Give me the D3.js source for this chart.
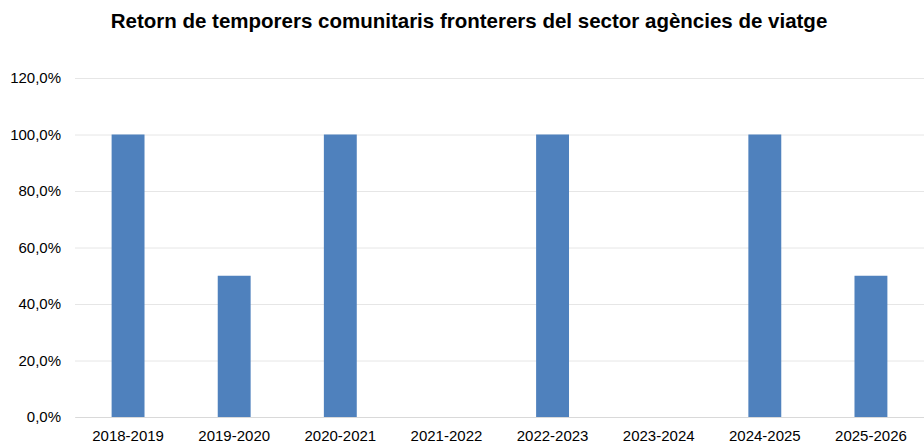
<!DOCTYPE html>
<html><head><meta charset="utf-8">
<script src="https://cdn.jsdelivr.net/npm/d3@7"></script>
<style>body{margin:0;background:#fff}svg{display:block}</style>
</head><body>
<svg id="c" width="924" height="447"></svg>
<script>
const categories = ["2018-2019","2019-2020","2020-2021","2021-2022","2022-2023","2023-2024","2024-2025","2025-2026"];
const values = [1.0, 0.5, 1.0, 0, 1.0, 0, 1.0, 0.5];
const yTicks = [0, 0.2, 0.4, 0.6, 0.8, 1.0, 1.2];
const title = "Retorn de temporers comunitaris fronterers del sector agències de viatge";

const svg = d3.select("#c");
const m = {left: 75, right: 0};
const W = 924;
const x = d3.scaleBand().domain(categories).range([m.left, W - m.right]).paddingInner(0.69).paddingOuter(0.345);
const y = d3.scaleLinear().domain([0, 1.2]).range([417, 78]);
const fmt = v => d3.format(".1f")(v * 100).replace(".", ",") + "%";
const FF = "Liberation Sans, Arial, sans-serif";

svg.append("text").attr("x", 469).attr("y", 28).attr("text-anchor", "middle")
  .attr("font-family", FF).attr("font-weight", "bold")
  .attr("font-size", 20.5).attr("fill", "#000").text(title);

const gy = svg.append("g").attr("transform", `translate(${m.left},0)`)
  .call(d3.axisLeft(y).tickValues(yTicks).tickFormat(fmt).tickSize(-(W - m.left)).tickPadding(14));
gy.select(".domain").remove();
gy.selectAll(".tick line").attr("stroke", "#e6e6e6");
gy.selectAll(".tick text").attr("font-family", FF).attr("font-size", 15).attr("fill", "#000");

svg.append("g").selectAll("rect").data(values).join("rect")
  .attr("x", (d, i) => x(categories[i])).attr("width", x.bandwidth())
  .attr("y", d => y(d)).attr("height", d => y(0) - y(d)).attr("fill", "#4f81bd");

const gx = svg.append("g").attr("transform", `translate(0,${y(0)})`)
  .call(d3.axisBottom(x).tickSize(0).tickPadding(13));
gx.select(".domain").attr("stroke", "#d9d9d9");
gx.selectAll(".tick text").attr("font-family", FF).attr("font-size", 15).attr("fill", "#000");
</script>
</body></html>
